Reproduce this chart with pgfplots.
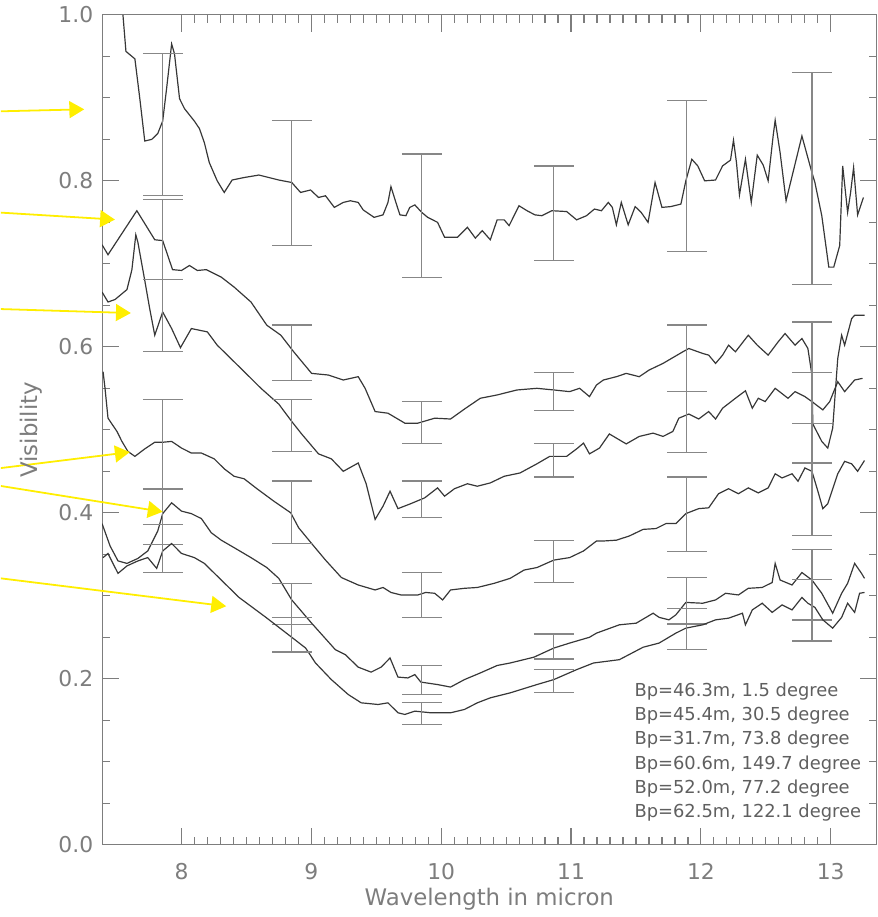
\documentclass[border=0pt]{standalone}
\usepackage{fontspec}
\setmainfont{DejaVu Sans}
\usepackage{pgfplots}
\pgfplotsset{compat=1.18}
\usetikzlibrary{arrows.meta}
\definecolor{axisgray}{RGB}{125,125,125}
\definecolor{curvegray}{RGB}{55,55,55}
\definecolor{errgray}{RGB}{135,135,135}
\definecolor{arrowyellow}{RGB}{255,238,0}
\definecolor{textgray}{RGB}{95,95,95}

\pgfplotsset{
  vis/.style={curvegray, line width=0.6pt},
  errs/.style={draw=none, mark=none,
    error bars/.cd, y dir=both, y explicit,
    error bar style={draw=errgray, line width=0.6pt},
    error mark=|,
    error mark options={draw=errgray, mark size=10pt, line width=0.6pt}},
}

\begin{document}
\begin{tikzpicture}
\begin{axis}[
  scale only axis, width=390pt, height=418pt,
  xmin=7.389, xmax=13.352, ymin=0, ymax=1,
  xtick={8,9,10,11,12,13}, minor x tick num=9,
  ytick={0,0.2,0.4,0.6,0.8,1.0}, minor y tick num=3,
  major tick length=8.5pt, minor tick length=4pt,
  axis line style={axisgray, line width=0.6pt},
  tick style={axisgray, line width=0.6pt},
  /pgf/number format/assume math mode=true,
  tick label style={font=\fontsize{11}{13}\selectfont, text=axisgray},
  xticklabel style={yshift=-6pt},
  yticklabel style={xshift=-1pt, /pgf/number format/.cd, fixed, fixed zerofill, precision=1},
  xlabel={Wavelength in micron}, ylabel={Visibility},
  label style={font=\fontsize{11.5}{13}\selectfont, text=axisgray},
  xlabel style={at={(axis description cs:0.5,-0.0658)}, anchor=center},
  ylabel style={at={(axis description cs:-0.0923,0.5)}, anchor=center},
  clip mode=individual,
]

% Bp=46.3m, 1.5 degree
\addplot[vis] coordinates {
(7.549,1.000) (7.572,0.956) (7.641,0.947) (7.679,0.899) (7.717,0.848) (7.771,0.850)
(7.817,0.857) (7.855,0.872) (7.885,0.911) (7.924,0.965) (7.946,0.953) (7.985,0.899)
(8.023,0.887) (8.099,0.872) (8.138,0.863) (8.176,0.846) (8.214,0.822) (8.275,0.800)
(8.329,0.786) (8.390,0.801) (8.482,0.804) (8.596,0.807) (8.673,0.804) (8.749,0.801)
(8.849,0.798) (8.917,0.786) (8.994,0.789) (9.055,0.780) (9.109,0.782) (9.177,0.768)
(9.246,0.774) (9.300,0.776) (9.361,0.774) (9.399,0.765) (9.483,0.756) (9.552,0.759)
(9.590,0.774) (9.613,0.793) (9.651,0.774) (9.682,0.759) (9.728,0.758) (9.758,0.768)
(9.797,0.771) (9.850,0.762) (9.896,0.756) (9.972,0.750) (10.026,0.732) (10.125,0.732)
(10.202,0.744) (10.263,0.731) (10.316,0.740) (10.378,0.729) (10.431,0.753) (10.485,0.753)
(10.523,0.746) (10.599,0.770) (10.661,0.764) (10.722,0.759) (10.775,0.758) (10.852,0.764)
(10.966,0.763) (11.043,0.753) (11.119,0.758) (11.180,0.766) (11.234,0.764) (11.287,0.774)
(11.318,0.768) (11.349,0.747) (11.387,0.774) (11.440,0.747) (11.494,0.769) (11.540,0.762)
(11.593,0.750) (11.647,0.798) (11.700,0.768) (11.769,0.769) (11.846,0.772) (11.884,0.800)
(11.930,0.826) (11.976,0.818) (12.029,0.800) (12.113,0.801) (12.167,0.818) (12.228,0.825)
(12.251,0.849) (12.274,0.822) (12.297,0.783) (12.343,0.826) (12.388,0.774) (12.434,0.831)
(12.480,0.819) (12.518,0.800) (12.557,0.855) (12.572,0.873) (12.610,0.834) (12.656,0.776)
(12.709,0.810) (12.778,0.854) (12.855,0.810) (12.878,0.798) (12.931,0.758) (12.985,0.696)
(13.023,0.696) (13.069,0.722) (13.092,0.818) (13.130,0.762) (13.153,0.786) (13.176,0.816)
(13.207,0.759) (13.252,0.780)
};
\addplot[errs] coordinates {
(7.855,0.8677) +- (0,0.0856) (8.849,0.7976) +- (0,0.0754) (9.850,0.7581) +- (0,0.0743)
(10.867,0.7611) +- (0,0.0569) (11.892,0.8060) +- (0,0.0910) (12.855,0.8030) +- (0,0.1275)
};

% Bp=45.4m, 30.5 degree
\addplot[vis] coordinates {
(7.388,0.723) (7.434,0.711) (7.656,0.764) (7.794,0.729) (7.855,0.728) (7.931,0.693)
(8.000,0.692) (8.061,0.698) (8.122,0.692) (8.191,0.693) (8.306,0.684) (8.405,0.672)
(8.535,0.654) (8.657,0.626) (8.765,0.614) (8.864,0.594) (9.002,0.568) (9.131,0.566)
(9.246,0.560) (9.361,0.564) (9.414,0.550) (9.491,0.522) (9.590,0.520) (9.720,0.508)
(9.820,0.508) (9.950,0.514) (10.072,0.513) (10.179,0.525) (10.301,0.538) (10.431,0.542)
(10.584,0.548) (10.737,0.550) (10.867,0.548) (10.989,0.546) (11.066,0.550) (11.142,0.540)
(11.196,0.554) (11.249,0.560) (11.349,0.564) (11.425,0.568) (11.525,0.564) (11.601,0.572)
(11.708,0.580) (11.861,0.594) (11.907,0.598) (12.014,0.592) (12.060,0.590) (12.113,0.580)
(12.167,0.590) (12.213,0.602) (12.266,0.594) (12.365,0.614) (12.434,0.602) (12.518,0.590)
(12.595,0.606) (12.648,0.616) (12.725,0.602) (12.778,0.610) (12.824,0.598) (12.855,0.566)
(12.862,0.507) (12.931,0.486) (12.977,0.478) (13.015,0.502) (13.054,0.586) (13.084,0.614)
(13.107,0.602) (13.161,0.634) (13.184,0.638) (13.260,0.638)
};
\addplot[errs] coordinates {
(7.855,0.7293) +- (0,0.0479) (8.849,0.5928) +- (0,0.0335) (9.850,0.5090) +- (0,0.0251)
(10.867,0.5461) +- (0,0.0228) (11.892,0.5862) +- (0,0.0401) (12.855,0.5689) +- (0,0.0611)
};

% Bp=31.7m, 73.8 degree
\addplot[vis] coordinates {
(7.388,0.666) (7.434,0.654) (7.488,0.657) (7.580,0.669) (7.618,0.693) (7.648,0.735)
(7.664,0.726) (7.717,0.680) (7.755,0.646) (7.794,0.614) (7.855,0.642) (7.924,0.622)
(7.992,0.599) (8.076,0.622) (8.199,0.618) (8.275,0.602) (8.405,0.582) (8.535,0.562)
(8.612,0.550) (8.749,0.531) (8.849,0.510) (8.925,0.495) (9.055,0.471) (9.154,0.465)
(9.246,0.450) (9.361,0.460) (9.422,0.435) (9.491,0.392) (9.552,0.408) (9.606,0.426)
(9.667,0.405) (9.766,0.411) (9.873,0.418) (9.972,0.430) (10.026,0.420) (10.102,0.429)
(10.202,0.435) (10.278,0.432) (10.378,0.436) (10.485,0.444) (10.607,0.448) (10.737,0.459)
(10.836,0.468) (10.966,0.468) (11.043,0.477) (11.096,0.484) (11.142,0.471) (11.219,0.478)
(11.295,0.495) (11.425,0.483) (11.525,0.492) (11.632,0.496) (11.708,0.492) (11.784,0.498)
(11.830,0.514) (11.907,0.519) (11.983,0.513) (12.060,0.522) (12.113,0.513) (12.167,0.526)
(12.266,0.538) (12.343,0.547) (12.396,0.526) (12.442,0.538) (12.495,0.534) (12.572,0.550)
(12.671,0.538) (12.725,0.546) (12.801,0.540) (12.855,0.534) (12.939,0.524) (12.992,0.534)
(13.054,0.558) (13.107,0.546) (13.184,0.560) (13.245,0.562)
};
\addplot[errs] coordinates {
(7.855,0.6377) +- (0,0.0437) (8.849,0.5054) +- (0,0.0311) (9.850,0.4162) +- (0,0.0222)
(10.867,0.4635) +- (0,0.0204) (11.892,0.5096) +- (0,0.0365) (12.855,0.5144) +- (0,0.0545)
};

% Bp=60.6m, 149.7 degree
\addplot[vis] coordinates {
(7.396,0.570) (7.411,0.550) (7.434,0.514) (7.503,0.498) (7.541,0.486) (7.587,0.474)
(7.641,0.468) (7.717,0.477) (7.794,0.485) (7.855,0.485) (7.924,0.486) (8.000,0.478)
(8.076,0.472) (8.153,0.472) (8.252,0.465) (8.329,0.453) (8.405,0.444) (8.482,0.441)
(8.581,0.429) (8.711,0.414) (8.841,0.400) (8.902,0.382) (9.002,0.363) (9.109,0.343)
(9.231,0.322) (9.361,0.313) (9.491,0.307) (9.552,0.310) (9.613,0.304) (9.690,0.301)
(9.820,0.301) (9.881,0.304) (9.950,0.303) (10.011,0.295) (10.072,0.307) (10.179,0.309)
(10.278,0.310) (10.408,0.315) (10.531,0.321) (10.638,0.331) (10.737,0.334) (10.867,0.343)
(10.989,0.346) (11.096,0.354) (11.196,0.366) (11.249,0.366) (11.349,0.367) (11.448,0.372)
(11.555,0.380) (11.654,0.381) (11.731,0.387) (11.807,0.387) (11.884,0.399) (11.983,0.405)
(12.060,0.406) (12.136,0.423) (12.213,0.429) (12.289,0.423) (12.365,0.430) (12.442,0.424)
(12.518,0.430) (12.572,0.447) (12.625,0.442) (12.702,0.447) (12.748,0.438) (12.801,0.454)
(12.855,0.450) (12.901,0.426) (12.939,0.405) (12.977,0.411) (13.054,0.447) (13.107,0.462)
(13.161,0.459) (13.207,0.450) (13.260,0.463)
};
\addplot[errs] coordinates {
(7.855,0.4826) +- (0,0.0539) (8.849,0.4006) +- (0,0.0377) (9.850,0.3012) +- (0,0.0269)
(10.867,0.3413) +- (0,0.0251) (11.892,0.3982) +- (0,0.0449) (12.855,0.4401) +- (0,0.0677)
};

% Bp=52.0m, 77.2 degree
\addplot[vis] coordinates {
(7.388,0.387) (7.450,0.360) (7.511,0.342) (7.580,0.339) (7.664,0.345) (7.740,0.354)
(7.817,0.378) (7.855,0.399) (7.924,0.412) (8.000,0.402) (8.076,0.399) (8.153,0.393)
(8.229,0.376) (8.306,0.367) (8.405,0.358) (8.535,0.346) (8.657,0.334) (8.749,0.321)
(8.849,0.295) (9.002,0.267) (9.185,0.235) (9.262,0.229) (9.361,0.214) (9.460,0.208)
(9.537,0.214) (9.606,0.225) (9.667,0.202) (9.743,0.201) (9.797,0.205) (9.843,0.196)
(9.972,0.193) (10.072,0.190) (10.179,0.199) (10.301,0.207) (10.431,0.216) (10.531,0.219)
(10.714,0.226) (10.867,0.237) (10.989,0.243) (11.142,0.250) (11.196,0.255) (11.372,0.265)
(11.502,0.267) (11.632,0.279) (11.678,0.274) (11.754,0.271) (11.807,0.277) (11.884,0.292)
(12.014,0.291) (12.113,0.295) (12.190,0.303) (12.289,0.301) (12.365,0.309) (12.472,0.310)
(12.549,0.316) (12.572,0.339) (12.610,0.319) (12.702,0.313) (12.778,0.328) (12.855,0.319)
(12.931,0.303) (13.015,0.279) (13.084,0.303) (13.130,0.315) (13.184,0.339) (13.237,0.327)
(13.260,0.321)
};
\addplot[errs] coordinates {
(7.855,0.3952) +- (0,0.0335) (8.849,0.2904) +- (0,0.0246) (9.850,0.1982) +- (0,0.0174)
(10.867,0.2389) +- (0,0.0150) (11.892,0.2940) +- (0,0.0281) (12.855,0.3132) +- (0,0.0425)
};

% Bp=62.5m, 122.1 degree
\addplot[vis] coordinates {
(7.396,0.346) (7.434,0.351) (7.472,0.339) (7.511,0.327) (7.580,0.336) (7.664,0.342)
(7.740,0.346) (7.809,0.333) (7.855,0.354) (7.924,0.363) (8.000,0.351) (8.099,0.346)
(8.176,0.339) (8.306,0.319) (8.443,0.298) (8.650,0.274) (8.849,0.250) (8.956,0.237)
(9.032,0.219) (9.154,0.199) (9.284,0.181) (9.384,0.171) (9.514,0.169) (9.590,0.171)
(9.667,0.159) (9.720,0.157) (9.797,0.161) (9.919,0.159) (10.072,0.159) (10.179,0.163)
(10.278,0.171) (10.378,0.177) (10.531,0.183) (10.737,0.193) (10.867,0.199) (11.043,0.211)
(11.173,0.219) (11.372,0.223) (11.555,0.238) (11.678,0.243) (11.807,0.255) (11.884,0.261)
(12.014,0.265) (12.113,0.271) (12.213,0.273) (12.320,0.279) (12.343,0.265) (12.396,0.283)
(12.472,0.291) (12.549,0.280) (12.625,0.289) (12.702,0.283) (12.778,0.298) (12.824,0.291)
(12.878,0.286) (12.939,0.271) (13.015,0.261) (13.084,0.274) (13.130,0.291) (13.184,0.280)
(13.222,0.303) (13.260,0.304)
};
\addplot[errs] coordinates {
(7.855,0.3569) +- (0,0.0287) (8.849,0.2533) +- (0,0.0210) (9.850,0.1581) +- (0,0.0132)
(10.867,0.1970) +- (0,0.0138) (11.892,0.2599) +- (0,0.0251) (12.855,0.2826) +- (0,0.0371)
};

% baseline legend
\begin{scope}[every node/.style={anchor=west, inner sep=0pt, font=\fontsize{9}{11}\selectfont, text=textgray}]
\node at (axis cs:11.486,0.1844) {Bp=46.3m, 1.5 degree};
\node at (axis cs:11.486,0.1557) {Bp=45.4m, 30.5 degree};
\node at (axis cs:11.486,0.1269) {Bp=31.7m, 73.8 degree};
\node at (axis cs:11.486,0.0970) {Bp=60.6m, 149.7 degree};
\node at (axis cs:11.486,0.0671) {Bp=52.0m, 77.2 degree};
\node at (axis cs:11.486,0.0383) {Bp=62.5m, 122.1 degree};
\end{scope}

% yellow pointers
\begin{scope}[arrowyellow, line width=0.9pt, -{Triangle[length=7.5pt, width=8.5pt]}]
\draw (axis cs:6.609,0.8838) -- (axis cs:7.251,0.8862);
\draw (axis cs:6.609,0.7617) -- (axis cs:7.488,0.7533);
\draw (axis cs:6.609,0.6455) -- (axis cs:7.610,0.6407);
\draw (axis cs:6.609,0.4539) -- (axis cs:7.602,0.4731);
\draw (axis cs:6.609,0.4323) -- (axis cs:7.855,0.4012);
\draw (axis cs:6.609,0.3210) -- (axis cs:8.344,0.2874);
\end{scope}
\end{axis}
\end{tikzpicture}
\end{document}
